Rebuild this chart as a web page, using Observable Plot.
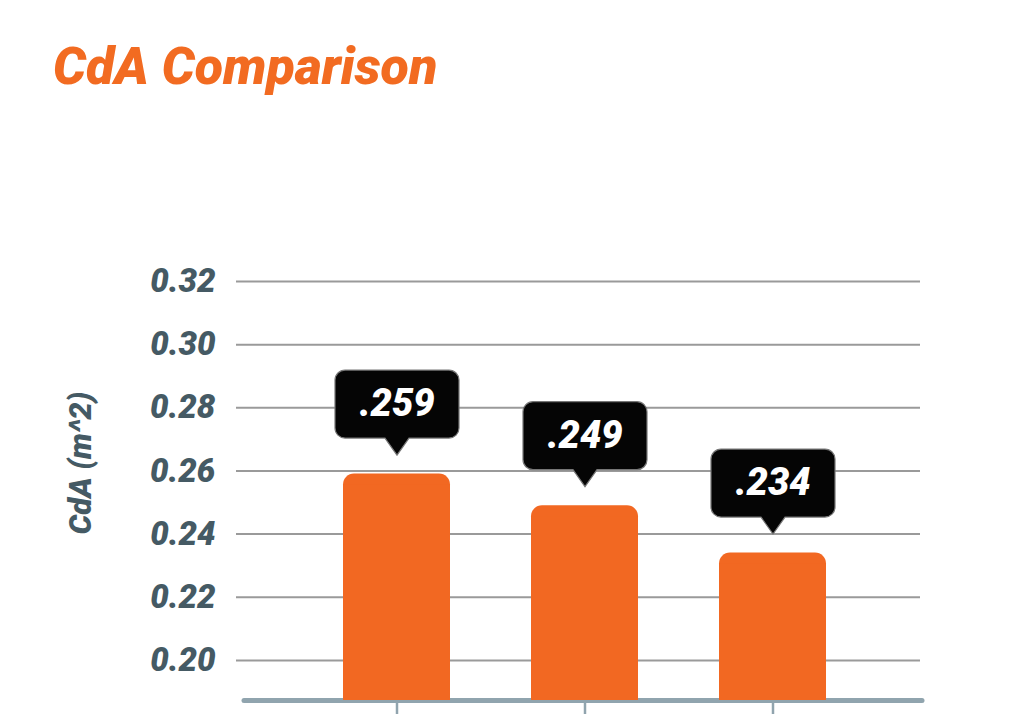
<!DOCTYPE html>
<html><head><meta charset="utf-8">
<script src="https://cdn.jsdelivr.net/npm/d3@7"></script>
<script src="https://cdn.jsdelivr.net/npm/@observablehq/plot@0.6"></script>
<style>
body{margin:0;background:#fff;font-family:Roboto,sans-serif;}
#title{height:120px;margin:0;padding:0;position:relative;}
#title span{position:absolute;left:53px;top:41px;font:italic 900 52px Roboto;color:#f26b21;line-height:1;white-space:nowrap;}
</style></head><body>
<div id="title"><span id="t"></span></div>
<div id="chart"></div>
<script>
const title = "CdA Comparison";
const categories = ["Setup 1", "Setup 2", "Setup 3"];
const values = [0.259, 0.249, 0.234];
const valueLabels = [".259", ".249", ".234"];
const yTicks = [0.20, 0.22, 0.24, 0.26, 0.28, 0.30, 0.32];
const yDomain = [0.1873, 0.32];
const yLabel = "CdA (m^2)";

document.getElementById("t").textContent = title;
const data = categories.map((c, i) => ({cat: c, value: values[i], label: valueLabels[i]}));

const orange = "#f26822";
const slate = "#455a64";

const calloutSymbol = {
  draw(ctx) {
    const w = 62, top = -104, bot = -36, r = 10;
    ctx.moveTo(-w + r, top);
    ctx.lineTo(w - r, top);
    ctx.arcTo(w, top, w, top + r, r);
    ctx.lineTo(w, bot - r);
    ctx.arcTo(w, bot, w - r, bot, r);
    ctx.lineTo(12, bot);
    ctx.lineTo(0, -19);
    ctx.lineTo(-12, bot);
    ctx.lineTo(-w + r, bot);
    ctx.arcTo(-w, bot, -w, bot - r, r);
    ctx.lineTo(-w, top + r);
    ctx.arcTo(-w, top, -w + r, top, r);
    ctx.closePath();
  }
};

const chart = Plot.plot({
  width: 1024,
  height: 608,
  marginTop: 161,
  marginBottom: 28,
  marginLeft: 236,
  marginRight: 104,
  style: {fontFamily: "Roboto, sans-serif", background: "#fff"},
  x: {type: "band", domain: categories, paddingInner: 0.43, paddingOuter: 0.215, insetLeft: 67, insetRight: 53, label: null},
  y: {domain: yDomain, label: null},
  marks: [
    Plot.ruleY(yTicks, {stroke: "#9a9a9a", strokeWidth: 2}),
    Plot.ruleY([yDomain[0]], {stroke: "#90a4ae", strokeWidth: 5, strokeLinecap: "round", insetLeft: 8, insetRight: -2}),
    Plot.axisX({tickSize: 12, tickFormat: () => "", stroke: "#90a4ae", strokeWidth: 2.5, label: null, dy: 2}),
    Plot.axisY(yTicks, {tickSize: 0, tickPadding: 21, tickFormat: d3.format(".2f"), fontSize: 33, fontStyle: "italic", fontWeight: 900, fill: slate, label: null}),
    Plot.barY(data, {x: "cat", y1: () => yDomain[0], y2: "value", fill: orange, rx: 11}),
    Plot.barY(data, {x: "cat", y1: () => yDomain[0], y2: "value", fill: orange, insetTop: 11}),
    Plot.dot(data, {x: "cat", y: "value", symbol: calloutSymbol, r: 10, fill: "#050505", stroke: "#777", strokeWidth: 1.2}),
    Plot.text(data, {x: "cat", y: "value", text: "label", dy: -70, fill: "#fff", fontSize: 38, fontStyle: "italic", fontWeight: 900}),
    Plot.text([yLabel], {text: d => d, frameAnchor: "left", textAnchor: "middle", rotate: -90, dx: -155, dy: -28, fontSize: 31, fontStyle: "italic", fontWeight: 900, fill: slate})
  ]
});
document.getElementById("chart").appendChild(chart);
</script>
</body></html>
